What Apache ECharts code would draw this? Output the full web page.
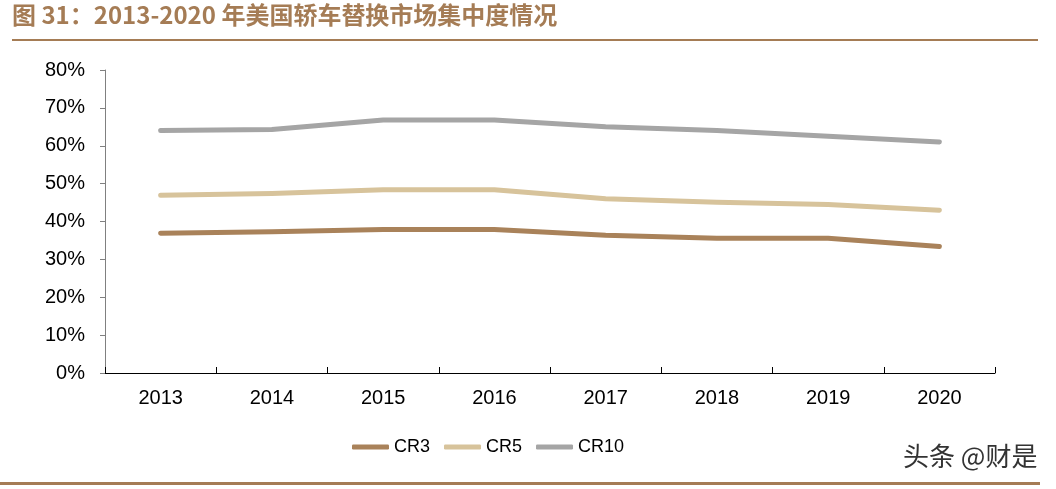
<!DOCTYPE html>
<html>
<head>
<meta charset="utf-8">
<script src="https://cdn.jsdelivr.net/npm/echarts@6/dist/echarts.min.js"></script>
<style>
html,body{margin:0;padding:0;background:#fff;}
#chart{width:1056px;height:489px;}
</style>
</head>
<body>
<div id="chart"></div>
<script>
var categories = ['2013','2014','2015','2016','2017','2018','2019','2020'];
var cr3 = [36.9, 37.3, 37.9, 37.9, 36.4, 35.6, 35.6, 33.4];
var cr5 = [46.9, 47.4, 48.4, 48.4, 46.0, 45.1, 44.5, 43.0];
var cr10 = [64.0, 64.3, 66.8, 66.8, 65.0, 64.0, 62.5, 61.0];
var yTicks = [0, 10, 20, 30, 40, 50, 60, 70, 80];

var chart = echarts.init(document.getElementById('chart'));
var labelFont = 'Liberation Sans, Arial, sans-serif';
chart.setOption({
  backgroundColor: '#ffffff',
  animation: false,
  grid: {left: 105, right: 61, top: 70, bottom: 116},
  legend: {
    bottom: 28,
    left: 347,
    itemWidth: 37,
    itemHeight: 5,
    itemGap: 14,
    icon: 'roundRect',
    textStyle: {fontFamily: labelFont, fontSize: 18, color: '#000'},
    data: ['CR3', 'CR5', 'CR10']
  },
  xAxis: {
    type: 'category',
    data: categories,
    boundaryGap: true,
    axisLine: {lineStyle: {color: '#000', width: 1}},
    axisTick: {show: true, inside: true, length: 6, lineStyle: {color: '#000'}},
    axisLabel: {fontFamily: labelFont, fontSize: 20, color: '#000', margin: 15}
  },
  yAxis: {
    type: 'value',
    min: yTicks[0],
    max: yTicks[yTicks.length - 1],
    interval: 10,
    axisLine: {show: true, lineStyle: {color: '#808080', width: 1}},
    axisTick: {show: true, length: 5, lineStyle: {color: '#808080'}},
    splitLine: {show: false},
    axisLabel: {fontFamily: labelFont, fontSize: 20, color: '#000', margin: 20, formatter: '{value}%'}
  },
  series: [
    {name: 'CR3', type: 'line', data: cr3, symbol: 'none', lineStyle: {width: 5, color: '#a9825a', cap: 'round', join: 'round'}, itemStyle: {color: '#a9825a'}},
    {name: 'CR5', type: 'line', data: cr5, symbol: 'none', lineStyle: {width: 5, color: '#d7c39b', cap: 'round', join: 'round'}, itemStyle: {color: '#d7c39b'}},
    {name: 'CR10', type: 'line', data: cr10, symbol: 'none', lineStyle: {width: 5, color: '#a5a5a5', cap: 'round', join: 'round'}, itemStyle: {color: '#a5a5a5'}}
  ],
  graphic: [
    {type: 'text', left: 12, top: 3, style: {text: '图 31：2013-2020 年美国轿车替换市场集中度情况', fill: '#a57c55', font: 'bold 24px "Noto Sans CJK SC", sans-serif'}},
    {type: 'rect', shape: {x: 12, y: 39, width: 1026, height: 2}, style: {fill: '#a57c55'}},
    {type: 'rect', shape: {x: 0, y: 482, width: 1040, height: 3}, style: {fill: '#a57c55'}},
    {type: 'text', left: 903, top: 443, style: {text: '头条 @财是', fill: '#333', font: '26px "Noto Sans CJK SC", sans-serif'}}
  ]
});
</script>
</body>
</html>
